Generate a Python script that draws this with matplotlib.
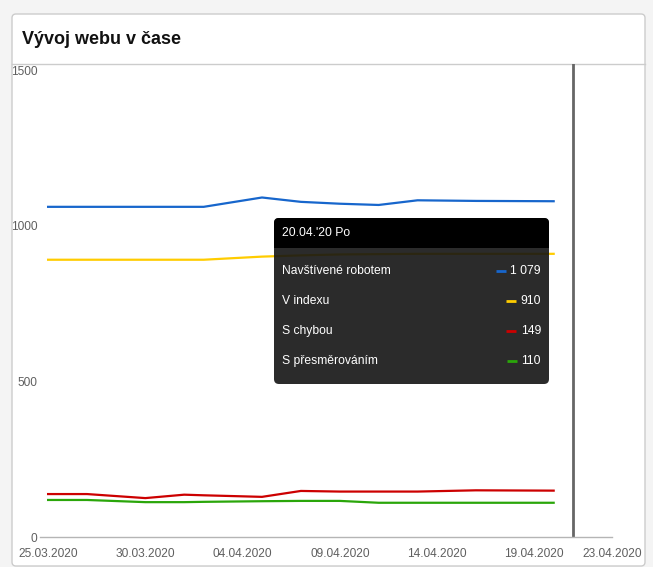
import matplotlib
matplotlib.use("Agg")
import matplotlib.pyplot as plt
import matplotlib.dates as mdates
from matplotlib.patches import FancyBboxPatch, Rectangle
import pandas as pd

plt.rcParams['font.family'] = ['Liberation Sans', 'DejaVu Sans']

# ---- data ----
dates = ["2020-03-25", "2020-03-27", "2020-03-30", "2020-04-01", "2020-04-02",
         "2020-04-05", "2020-04-07", "2020-04-09", "2020-04-11", "2020-04-13",
         "2020-04-16", "2020-04-20"]
navstivene = [1061, 1061, 1061, 1061, 1061, 1091, 1077, 1071, 1067, 1082, 1080, 1079]
v_indexu = [891, 891, 891, 891, 891, 901, 905, 908, 909, 910, 910, 910]
s_chybou = [138, 138, 125, 136, 134, 129, 148, 146, 146, 146, 150, 149]
s_presmerovanim = [119, 119, 112, 112, 113, 115, 116, 116, 110, 110, 110, 110]

series_names = ["Navštívené robotem", "V indexu", "S chybou", "S přesměrováním"]
series_values = [navstivene, v_indexu, s_chybou, s_presmerovanim]
series_colors = ["#1766cc", "#ffcc00", "#cc0000", "#2aa60a"]

x_ticks = ["2020-03-25", "2020-03-30", "2020-04-04", "2020-04-09",
           "2020-04-14", "2020-04-19", "2020-04-23"]
y_ticks = [0, 500, 1000, 1500]
marker_date = "2020-04-21"
tooltip_title = "20.04.'20 Po"
title = "Vývoj webu v čase"

W, H = 653, 567
fig = plt.figure(figsize=(W / 100, H / 100), dpi=100)
fig.patch.set_facecolor("#f4f4f4")

# ---- card background ----
bg = fig.add_axes([0, 0, 1, 1], zorder=0)
bg.set_xlim(0, W)
bg.set_ylim(H, 0)
bg.axis("off")
bg.add_patch(FancyBboxPatch((12, 14), 633, 552, boxstyle="round,pad=0,rounding_size=4",
                            facecolor="white", edgecolor="#cccccc", lw=1))
bg.plot([12, 645], [64, 64], color="#cccccc", lw=1)
bg.text(22, 40, title, fontsize=13, fontweight="bold", color="#111111",
        ha="left", va="center")

# ---- plot ----
dts = pd.to_datetime(dates)
ax = fig.add_axes([40 / W, (H - 537) / H, (612 - 40) / W, (537 - 64) / H], zorder=1)
ax.patch.set_alpha(0)
for vals, col in zip(series_values, series_colors):
    ax.plot(dts, vals, color=col, lw=1.6, solid_joinstyle="round", zorder=3)

ax.axvline(pd.Timestamp(marker_date), color="#666666", lw=2, zorder=2)

ax.set_xlim(pd.Timestamp("2020-03-25") - pd.Timedelta(hours=10), pd.Timestamp("2020-04-23"))
ax.set_ylim(0, 1520)
ax.set_xticks(pd.to_datetime(x_ticks))
ax.xaxis.set_major_formatter(mdates.DateFormatter("%d.%m.%Y"))
ax.set_yticks(y_ticks)
ax.tick_params(axis="both", length=0, labelsize=8.6, labelcolor="#5f5f5f")
ax.tick_params(axis="x", pad=8)
ax.tick_params(axis="y", pad=2)
for s in ["top", "right", "left"]:
    ax.spines[s].set_visible(False)
ax.spines["bottom"].set_color("#b5b5b5")
ax.spines["bottom"].set_linewidth(1)
ax.grid(False)

# ---- tooltip overlay ----
ov = fig.add_axes([0, 0, 1, 1], zorder=5)
ov.set_xlim(0, W)
ov.set_ylim(H, 0)
ov.axis("off")
ov.patch.set_alpha(0)
ov.add_patch(FancyBboxPatch((274, 218), 275, 166, boxstyle="round,pad=0,rounding_size=5",
                            facecolor="#141414", alpha=0.9, edgecolor="none"))
ov.add_patch(FancyBboxPatch((274, 218), 275, 30, boxstyle="round,pad=0,rounding_size=5",
                            facecolor="black", edgecolor="none"))
ov.add_patch(Rectangle((274, 238), 275, 10, facecolor="black", edgecolor="none"))
ov.text(282, 233, tooltip_title, color="white", fontsize=8.7, ha="left", va="center")

row_y = [271, 301, 331, 361]
dash_x = [(496, 506), (506, 516), (506, 516), (507, 517)]
for name, vals, col, y, (dx0, dx1) in zip(series_names, series_values, series_colors,
                                          row_y, dash_x):
    ov.text(282, y, name, color="white", fontsize=8.7, ha="left", va="center")
    ov.text(541, y, f"{vals[-1]:,}".replace(",", " "), color="white", fontsize=8.7,
            ha="right", va="center")
    ov.plot([dx0, dx1], [y, y], color=col, lw=2, solid_capstyle="butt")

fig.savefig("out.png", dpi=100, facecolor=fig.get_facecolor())
